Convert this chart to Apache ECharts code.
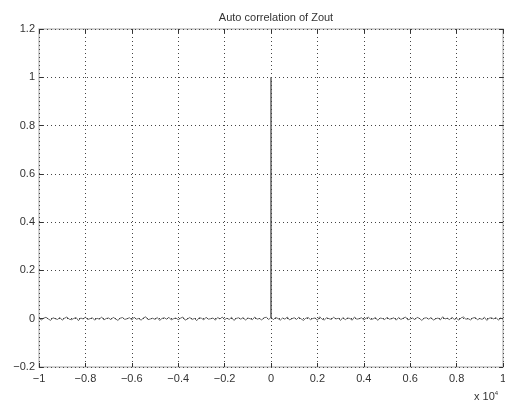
<!DOCTYPE html>
<html>
<head>
<meta charset="utf-8">
<script src="https://cdn.jsdelivr.net/npm/echarts@6/dist/echarts.min.js"></script>
<style>html,body{margin:0;padding:0;background:#fff}#c{width:505px;height:410px}</style>
</head>
<body>
<div id="c"></div>
<script>
const titleText = "Auto correlation of Zout";
const xTicks = [-1, -0.8, -0.6, -0.4, -0.2, 0, 0.2, 0.4, 0.6, 0.8, 1];
const yTicks = [-0.2, 0, 0.2, 0.4, 0.6, 0.8, 1, 1.2];
const xScaleNote = "x 10";
const xScaleExp = "4";

// lag (x 10^4)
const lags = [
-1,-0.99,-0.98,-0.97,-0.96,-0.95,-0.94,-0.93,-0.92,-0.91,
-0.9,-0.89,-0.88,-0.87,-0.86,-0.85,-0.84,-0.83,-0.82,-0.81,
-0.8,-0.79,-0.78,-0.77,-0.76,-0.75,-0.74,-0.73,-0.72,-0.71,
-0.7,-0.69,-0.68,-0.67,-0.66,-0.65,-0.64,-0.63,-0.62,-0.61,
-0.6,-0.59,-0.58,-0.57,-0.56,-0.55,-0.54,-0.53,-0.52,-0.51,
-0.5,-0.49,-0.48,-0.47,-0.46,-0.45,-0.44,-0.43,-0.42,-0.41,
-0.4,-0.39,-0.38,-0.37,-0.36,-0.35,-0.34,-0.33,-0.32,-0.31,
-0.3,-0.29,-0.28,-0.27,-0.26,-0.25,-0.24,-0.23,-0.22,-0.21,
-0.2,-0.19,-0.18,-0.17,-0.16,-0.15,-0.14,-0.13,-0.12,-0.11,
-0.1,-0.09,-0.08,-0.07,-0.06,-0.05,-0.04,-0.03,-0.02,-0.01,
-0.001,0,0.001,
0.01,0.02,0.03,0.04,0.05,0.06,0.07,0.08,0.09,0.1,
0.11,0.12,0.13,0.14,0.15,0.16,0.17,0.18,0.19,0.2,
0.21,0.22,0.23,0.24,0.25,0.26,0.27,0.28,0.29,0.3,
0.31,0.32,0.33,0.34,0.35,0.36,0.37,0.38,0.39,0.4,
0.41,0.42,0.43,0.44,0.45,0.46,0.47,0.48,0.49,0.5,
0.51,0.52,0.53,0.54,0.55,0.56,0.57,0.58,0.59,0.6,
0.61,0.62,0.63,0.64,0.65,0.66,0.67,0.68,0.69,0.7,
0.71,0.72,0.73,0.74,0.75,0.76,0.77,0.78,0.79,0.8,
0.81,0.82,0.83,0.84,0.85,0.86,0.87,0.88,0.89,0.9,
0.91,0.92,0.93,0.94,0.95,0.96,0.97,0.98,0.99,1
];

// normalized autocorrelation
const acf = [
0.003,-0.005,0.002,0.006,-0.001,-0.007,0.004,0,-0.003,0.005,
-0.006,0.002,0.007,-0.002,-0.004,0.001,0.005,-0.008,0.003,-0.001,
0.006,-0.003,0,0.004,-0.006,0.002,-0.002,0.007,-0.005,0.001,
0.003,-0.004,0.006,-0.001,-0.007,0.002,0.005,-0.003,0,0.004,
-0.005,0.006,-0.002,0.001,-0.006,0.003,0.008,-0.004,-0.001,0.002,
-0.003,0.005,-0.007,0.001,0.004,-0.002,0.006,-0.005,0,0.003,
-0.004,0.002,0.007,-0.006,-0.001,0.005,-0.003,0.001,-0.008,0.004,
0.002,-0.005,0.006,-0.002,0,0.003,-0.006,0.005,-0.001,0.007,
-0.004,0.002,-0.003,0.006,-0.007,0.001,0.004,-0.002,0.005,-0.006,
0.003,0,-0.004,0.007,-0.002,0.001,-0.005,0.004,0.006,-0.003,
0.004,1,0.005,
-0.004,0.005,0.001,-0.006,0.003,-0.002,0.007,-0.005,0,0.004,
-0.003,0.006,-0.001,-0.007,0.002,0.005,-0.004,0.001,0.003,-0.006,
0.008,-0.002,-0.005,0.004,0,-0.003,0.006,-0.001,0.002,-0.007,
0.005,-0.004,0.003,0.001,-0.006,0.007,-0.002,0,0.004,-0.005,
0.002,0.006,-0.003,-0.001,0.005,-0.007,0.003,0.001,-0.004,0.006,
-0.002,0,0.004,-0.006,0.005,-0.003,0.002,0.007,-0.005,-0.001,
0.003,-0.004,0.006,0.001,-0.007,0.002,0.004,-0.002,0.005,-0.006,
0,0.003,-0.005,0.008,-0.001,0.002,-0.004,0.006,-0.003,0.001,
-0.006,0.004,0.007,-0.002,0,-0.005,0.003,0.005,-0.004,0.001,
-0.003,0.006,-0.007,0.002,0.004,-0.001,0.005,-0.006,0.003,-0.002
];

const n = Math.min(lags.length, acf.length);
const pts = [];
for (let i = 0; i < n; i++) pts.push([lags[i], acf[i]]);

const fmt = v => {
  const r = Math.round(v * 10) / 10;
  return (r < 0 ? '\u2212' : '') + String(Math.abs(r));
};

const FONT = 'Liberation Sans';
const chart = echarts.init(document.getElementById('c'), null, {renderer: 'canvas'});
const tickStyle = {show: true, inside: true, length: 4, lineStyle: {color: '#333', width: 1}};
const gridLine = {show: true, lineStyle: {color: '#444', type: [1, 3], width: 1}};
const noLine = {show: false, onZero: false};
chart.setOption({
  animation: false,
  backgroundColor: '#fff',
  title: {
    text: titleText, left: 271, top: 7, textAlign: 'center',
    textStyle: {fontFamily: FONT, fontSize: 11, fontWeight: 'normal', color: '#333'}
  },
  grid: {left: 39, right: 2, top: 29, bottom: 43, show: true, borderColor: '#c4c4c4', borderWidth: 1.5,
         outerBoundsMode: 'none', containLabel: false},
  xAxis: [{
    type: 'value', min: -1, max: 1, interval: 0.2,
    axisLine: noLine,
    axisTick: tickStyle,
    splitLine: gridLine,
    axisLabel: {formatter: fmt, fontFamily: FONT, fontSize: 11, color: '#333', margin: 6}
  }, {
    type: 'value', min: -1, max: 1, interval: 0.2, position: 'top',
    axisLine: noLine, axisTick: tickStyle, splitLine: {show: false}, axisLabel: {show: false}
  }],
  yAxis: [{
    type: 'value', min: -0.2, max: 1.2, interval: 0.2, position: 'left',
    axisLine: noLine,
    axisTick: tickStyle,
    splitLine: gridLine,
    axisLabel: {formatter: fmt, fontFamily: FONT, fontSize: 11, color: '#333', margin: 4}
  }, {
    type: 'value', min: -0.2, max: 1.2, interval: 0.2, position: 'right',
    axisLine: noLine, axisTick: tickStyle, splitLine: {show: false}, axisLabel: {show: false}
  }],
  graphic: [{
    type: 'text', left: 474, top: 390,
    style: {
      text: '{a|' + xScaleNote + '}{b|' + xScaleExp + '}',
      rich: {
        a: {fontFamily: FONT, fontSize: 11, fill: '#333'},
        b: {fontFamily: FONT, fontSize: 6, fill: '#333', verticalAlign: 'top', padding: [0, 0, 8, 0]}
      }
    }
  }],
  series: [{
    type: 'line', data: pts, showSymbol: false, symbol: 'none',
    lineStyle: {color: '#444', width: 0.8}
  }]
});
</script>
</body>
</html>
